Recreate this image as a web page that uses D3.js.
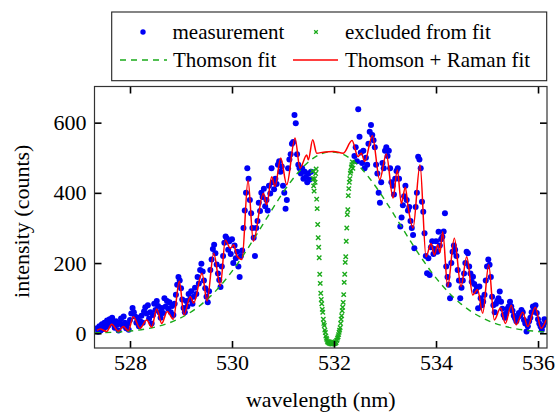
<!DOCTYPE html>
<html><head><meta charset="utf-8">
<script src="https://cdn.jsdelivr.net/npm/d3@7"></script>
<style>
body{margin:0;background:#fff}
svg{display:block}
text{font-family:"Liberation Serif","Times New Roman",serif;fill:#000}
</style>
</head><body>
<svg id="c" width="558" height="412"></svg>
<script>
// ---------- DATA ----------
const xTicks = [528, 530, 532, 534, 536];
const yTicks = [0, 200, 400, 600];

// measurement: uniform wavelength grid (nm) on both sides of the laser line
const measLeftStart = 527.35, measRightStart = 532.40, measStep = 0.025;
const measLeftValues = [14,4,20,8,26,12,30,18,36,22,
 40,28,44,30,16,34,24,8,30,42,
 22,48,30,14,26,10,38,56,72,60,
 48,30,44,20,34,50,30,62,74,56,
 80,42,60,28,52,84,66,92,78,60,
 44,72,58,100,76,92,70,88,60,78,
 52,84,110,138,160,150,128,96,72,60,
 92,76,112,96,120,84,104,130,112,160,
 142,180,198,176,150,128,104,88,120,180,
 210,240,252,228,196,170,152,132,190,220,
 258,276,270,238,262,226,268,200,250,214,
 232,190,160,220,236,300,350,400,470,440,
 380,342,300,272,220,300,320,372,348,400,
 388,412,362,380,350,420,398,470,430,410,
 440,425,480,490,460,475,420,400,355,380,
 470,495,510,540,545,622,598,510,480,470,
 455,470,440,460,445,430,455,438,460];
const measRightValues = [505,530,490,638,560,515,485,520,470,500,
 480,540,574,593,565,550,530,480,455,400,
 372,430,485,470,520,530,505,520,470,430,
 420,395,440,462,470,440,304,330,365,390,
 420,380,350,360,320,300,280,242,360,400,
 503,495,470,375,346,285,220,171,214,166,
 245,262,226,240,262,232,289,250,268,275,
 290,342,190,160,138,100,200,232,250,238,
 220,180,150,100,130,150,170,200,232,228,
 190,170,147,161,140,120,130,71,133,100,
 80,90,110,150,190,210,195,160,104,80,
 60,84,92,100,119,90,70,52,44,56,
 70,76,90,76,64,50,43,34,44,58,
 50,66,60,38,28,5,20,34,44,60,
 76,70,80,58,40,28,19,10,22,40,
 33];

// excluded from fit (around the 532 nm laser line)
const exclStart = 531.58, exclStep = 0.01;
const exclValues = [462,440,420,405,440,430,455,468,382,355,
 310,272,245,215,168,142,114,96,84,68,
 60,40,28,22,9,2,-8,-14,-18,-23,
 -26,-24,-28,-25,-29,-26,-30,-27,-31,-28,
 -30,-27,-30,-26,-29,-24,-27,-21,-19,-14,
 -10,-4,3,9,16,28,40,50,64,74,
 88,110,145,168,202,218,262,300,338,352,
 392,412,430,440,456,462,474,480,488,470];

// Thomson fit (sampled every 0.2 nm)
const thomsonStart = 527.3, thomsonStep = 0.2;
const thomsonValues = [1.1,1.9,3.1,5.0,7.8,12.0,17.9,26.1,37.3,52.1,
 71.0,94.8,123.6,157.6,196.5,239.5,285.4,332.4,378.6,421.5,
 458.8,488.3,508.0,516.6,513.7,499.4,474.6,441.0,400.6,355.7,
 308.9,262.2,217.6,176.5,140.0,108.5,82.3,61.0,44.2,31.3,
 21.7,14.7,9.7,6.3,4.0,2.5];

// Thomson + Raman fit (peaks and troughs)
const ramanWl = [527.353,527.412,527.543,527.641,527.771,527.869,527.967,528.065,528.196,528.327,
 528.425,528.524,528.622,528.731,528.849,528.967,529.059,529.182,529.249,529.412,
 529.510,529.641,529.771,529.869,529.967,530.033,530.098,530.196,530.314,530.418,
 530.614,530.680,530.778,530.843,530.955,531.073,531.235,531.333,531.465,531.496,
 531.582,531.661,531.790,531.986,532.182,532.353,532.471,532.535,532.602,532.751,
 532.896,533.025,533.157,533.241,533.320,533.398,533.451,533.549,533.686,533.804,
 533.902,533.967,534.033,534.078,534.131,534.229,534.359,534.490,534.602,534.720,
 534.814,534.916,535.033,535.143,535.265,535.359,535.476,535.569,535.700,535.798,
 535.947,536.059,536.157];
const ramanValues = [8,12,5,26,6,19,7,47,14,38,
 17,69,28,62,40,148,52,104,86,171,
 92,228,135,265,242,252,220,210,436,262,
 399,366,446,418,499,423,556,470,508,494,
 551,513,516,518,513,549,503,513,489,563,
 437,511,385,465,370,416,361,300,480,218,
 256,223,252,230,289,133,271,133,218,109,
 125,57,195,38,72,28,80,24,60,19,
 74,14,38];

const legendLabels = ["measurement", "excluded from fit", "Thomson fit", "Thomson + Raman fit"];
const xLabel = "wavelength (nm)";
const yLabel = "intensity (counts)";

// ---------- BUILD ----------
const measurement = measLeftValues.map((v,i)=>({wl: measLeftStart + measStep*i, v}))
  .concat(measRightValues.map((v,i)=>({wl: measRightStart + measStep*i, v})));
const excluded = exclValues.map((v,i)=>({wl: exclStart + exclStep*i, v}));
const thomson = thomsonValues.map((v,i)=>({wl: thomsonStart + thomsonStep*i, v}));
const raman = ramanValues.map((v,i)=>({wl: ramanWl[i], v}));

const svg = d3.select("#c");
const P = {left: 94.5, right: 547, top: 86.5, bottom: 348};
const x = d3.scaleLinear().domain([527.304, 536.176]).range([P.left, P.right]);
const y = d3.scaleLinear().domain([-42, 703]).range([P.bottom, P.top]);

const BLUE = "#0000f5", GREEN = "#1aaa1a", RED = "#ff0000";

svg.append("clipPath").attr("id","clip").append("rect")
  .attr("x",P.left).attr("y",P.top).attr("width",P.right-P.left).attr("height",P.bottom-P.top);

const g = svg.append("g").attr("clip-path","url(#clip)");

g.append("g").selectAll("circle").data(measurement).join("circle")
  .attr("cx",d=>x(d.wl)).attr("cy",d=>y(d.v)).attr("r",3).attr("fill",BLUE);

const cross = (sel, s, w) => sel.attr("d", `M${-s},${-s}L${s},${s}M${-s},${s}L${s},${-s}`)
  .attr("stroke",GREEN).attr("stroke-width",w).attr("fill","none");
g.append("g").selectAll("path").data(excluded).join("path")
  .attr("transform",d=>`translate(${x(d.wl)},${y(d.v)})`).call(cross, 2.2, 1.4);

const line = d3.line().x(d=>x(d.wl)).y(d=>y(d.v)).curve(d3.curveMonotoneX);
g.append("path").attr("d", line(thomson))
  .attr("fill","none").attr("stroke",GREEN).attr("stroke-width",1.4).attr("stroke-dasharray","6,5");
g.append("path").attr("d", line(raman))
  .attr("fill","none").attr("stroke",RED).attr("stroke-width",1.5);

// axes: ticks inward on all four sides
const fs = 22;
const axB = svg.append("g").attr("transform",`translate(0,${P.bottom})`)
  .call(d3.axisBottom(x).tickValues(xTicks).tickSize(-7).tickPadding(6).tickFormat(d3.format("d")));
const axT = svg.append("g").attr("transform",`translate(0,${P.top})`)
  .call(d3.axisTop(x).tickValues(xTicks).tickSize(-7).tickFormat(""));
const axL = svg.append("g").attr("transform",`translate(${P.left},0)`)
  .call(d3.axisLeft(y).tickValues(yTicks).tickSize(-7).tickPadding(8).tickFormat(d3.format("d")));
const axR = svg.append("g").attr("transform",`translate(${P.right},0)`)
  .call(d3.axisRight(y).tickValues(yTicks).tickSize(-7).tickFormat(""));
[axB,axT,axL,axR].forEach(a=>{
  a.select(".domain").remove();
  a.selectAll(".tick line").attr("stroke","#000").attr("stroke-width",1.6);
  a.selectAll("text").attr("font-size",fs).attr("font-family",'"Liberation Serif",serif').attr("fill","#000");
});

svg.append("rect").attr("x",P.left).attr("y",P.top).attr("width",P.right-P.left).attr("height",P.bottom-P.top)
  .attr("fill","none").attr("stroke","#333").attr("stroke-width",1.2);

svg.append("text").attr("x",(P.left+P.right)/2).attr("y",407).attr("text-anchor","middle")
  .attr("font-size",fs).text(xLabel);
svg.append("text").attr("transform",`translate(29,${(P.top+P.bottom)/2+4}) rotate(-90)`)
  .attr("text-anchor","middle").attr("font-size",fs).text(yLabel);

// legend
const L = svg.append("g");
L.append("rect").attr("x",111.7).attr("y",12).attr("width",435).attr("height",68.7)
  .attr("fill","#fff").attr("stroke","#222").attr("stroke-width",1.1);
const r1 = 32, r2 = 60;
L.append("circle").attr("cx",143).attr("cy",r1).attr("r",2.7).attr("fill",BLUE);
L.append("text").attr("x",172.5).attr("y",r1+7).attr("font-size",21).text(legendLabels[0]);
L.append("path").attr("transform",`translate(316,${r1})`).call(cross,1.8,1.3);
L.append("text").attr("x",345).attr("y",r1+7).attr("font-size",21).text(legendLabels[1]);
L.append("line").attr("x1",120).attr("x2",167).attr("y1",r2).attr("y2",r2)
  .attr("stroke",GREEN).attr("stroke-width",1.4).attr("stroke-dasharray","6,5");
L.append("text").attr("x",173).attr("y",r2+7).attr("font-size",21).text(legendLabels[2]);
L.append("line").attr("x1",293).attr("x2",338).attr("y1",r2).attr("y2",r2)
  .attr("stroke",RED).attr("stroke-width",1.5);
L.append("text").attr("x",345).attr("y",r2+7).attr("font-size",21).text(legendLabels[3]);
</script>
</body></html>
